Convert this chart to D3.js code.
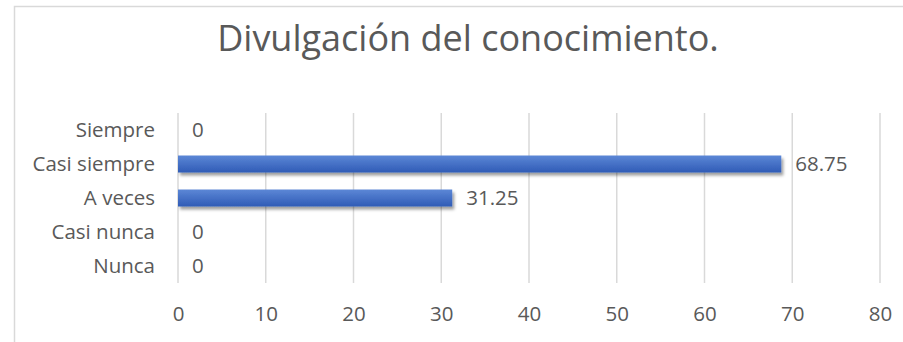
<!DOCTYPE html>
<html>
<head>
<meta charset="utf-8">
<script src="https://cdn.jsdelivr.net/npm/d3@7"></script>
<style>
  html, body { margin: 0; padding: 0; background: #fff; }
  svg { display: block; }
</style>
</head>
<body>
<svg id="chart" width="903" height="342"></svg>
<script>
// Survey responses, top row first
const categories = ["Siempre", "Casi siempre", "A veces", "Casi nunca", "Nunca"];
const values = [0, 68.75, 31.25, 0, 0];
const xTicks = [0, 10, 20, 30, 40, 50, 60, 70, 80];
const title = "Divulgación del conocimiento.";

const W = 903, H = 342;
const font = "'Open Sans', 'Segoe UI', sans-serif";
const textColor = "#595959";
const gridColor = "#d9d9d9";
const labelSize = 20.5;

const svg = d3.select("#chart");

// Chart frame (runs past the right and bottom edges)
svg.append("rect")
  .attr("x", 14.5).attr("y", 6.5)
  .attr("width", W + 20).attr("height", H + 20)
  .attr("fill", "#fff")
  .attr("stroke", gridColor).attr("stroke-width", 1.5);

const defs = svg.append("defs");
const grad = defs.append("linearGradient")
  .attr("id", "barFill").attr("x1", 0).attr("y1", 0).attr("x2", 0).attr("y2", 1);
grad.append("stop").attr("offset", "0%").attr("stop-color", "#5c87d6");
grad.append("stop").attr("offset", "100%").attr("stop-color", "#2f5bb6");

const shadow = defs.append("filter").attr("id", "barShadow")
  .attr("x", "-5%").attr("y", "-40%").attr("width", "115%").attr("height", "200%");
shadow.append("feDropShadow")
  .attr("dx", 2).attr("dy", 3).attr("stdDeviation", 1.6)
  .attr("flood-color", "#000").attr("flood-opacity", 0.38);

const x = d3.scaleLinear().domain([0, 80]).range([178, 880]);
const y = d3.scaleBand().domain(categories).range([113, 283])
  .paddingInner(0.5).paddingOuter(0.25);

// Title
svg.append("text")
  .attr("x", 468).attr("y", 51)
  .attr("text-anchor", "middle")
  .attr("font-family", font).attr("font-size", 36)
  .attr("fill", textColor)
  .text(title);

// Vertical gridlines
svg.append("g")
  .selectAll("line")
  .data(xTicks)
  .join("line")
  .attr("x1", d => x(d)).attr("x2", d => x(d))
  .attr("y1", 113).attr("y2", 283)
  .attr("stroke", gridColor).attr("stroke-width", 1.5);

// X axis labels
const xAxis = d3.axisBottom(x).tickValues(xTicks).tickSize(0).tickPadding(0);
const gx = svg.append("g").attr("transform", "translate(0,306)").call(xAxis);
gx.select(".domain").remove();
gx.selectAll("text")
  .attr("font-family", font).attr("font-size", labelSize)
  .attr("fill", textColor);

// Y axis labels
const yAxis = d3.axisLeft(y).tickSize(0).tickPadding(0);
const gy = svg.append("g").attr("transform", "translate(155,0)").call(yAxis);
gy.select(".domain").remove();
gy.selectAll("text")
  .attr("font-family", font).attr("font-size", labelSize)
  .attr("fill", textColor);

// Bars
svg.append("g")
  .selectAll("rect")
  .data(categories.map((c, i) => ({ c, v: values[i] })).filter(d => d.v > 0))
  .join("rect")
  .attr("x", x(0))
  .attr("y", d => y(d.c))
  .attr("width", d => x(d.v) - x(0))
  .attr("height", y.bandwidth())
  .attr("fill", "url(#barFill)")
  .attr("filter", "url(#barShadow)");

// Value labels
svg.append("g")
  .selectAll("text")
  .data(categories.map((c, i) => ({ c, v: values[i] })))
  .join("text")
  .attr("x", d => x(d.v) + 14)
  .attr("y", d => y(d.c) + y.bandwidth() / 2)
  .attr("dy", "0.35em")
  .attr("font-family", font).attr("font-size", labelSize)
  .attr("fill", textColor)
  .text(d => d3.format("")(d.v));
</script>
</body>
</html>
